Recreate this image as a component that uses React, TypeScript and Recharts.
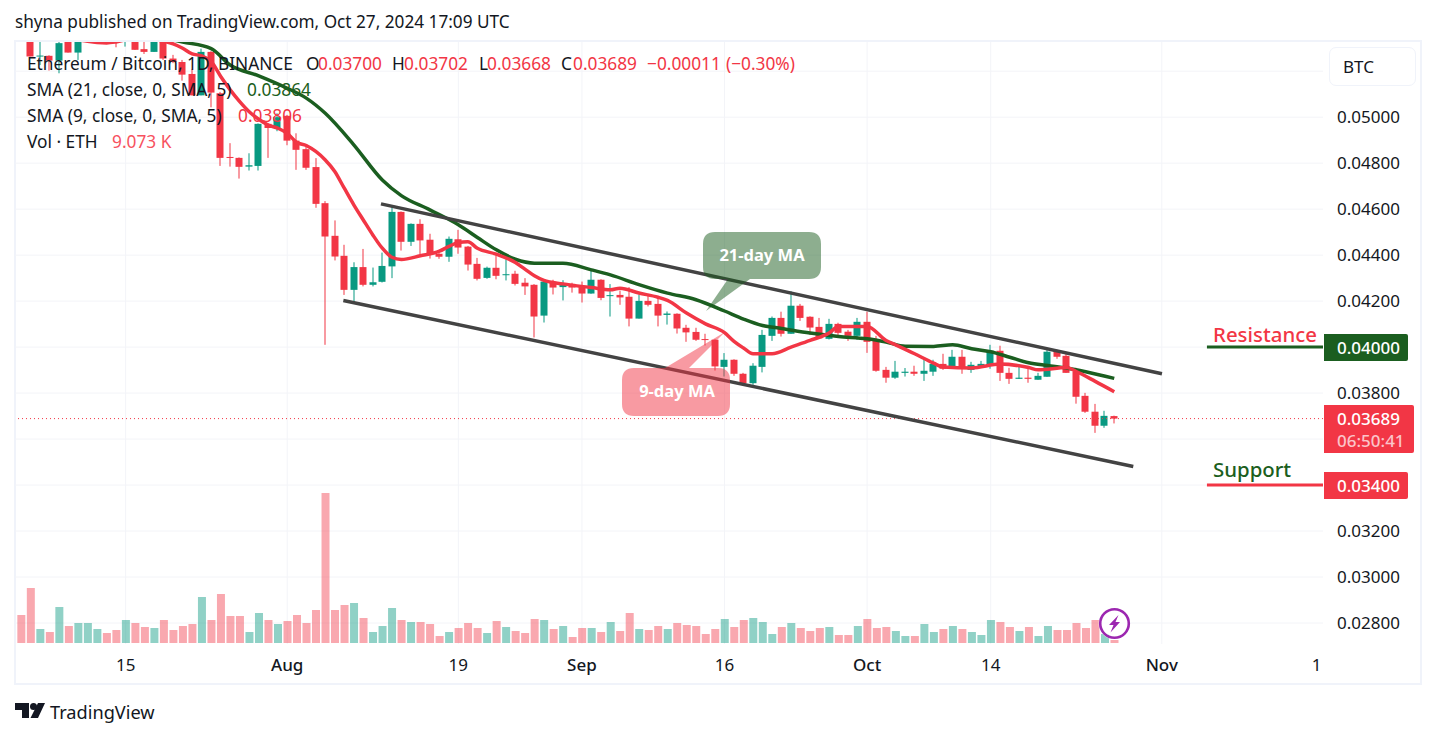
import { Bar, CartesianGrid, Cell, ComposedChart, Line, ReferenceLine, XAxis, YAxis } from "recharts";
import type { ReactNode } from "react";

const UP = "#089981";
const DOWN = "#f23645";
const MA_LONG = "#1b5e20";
const FONT = "'Noto Sans', sans-serif";

// daily candles, Jul 4 to Oct 27 2024 (day 0 = Jul 4)
const opens = [
  0.0547, 0.054, 0.05264, 0.05267, 0.05246, 0.0534, 0.05281, 0.05335, 0.0538, 0.0542,
  0.0538, 0.0534, 0.0537, 0.05296, 0.05284, 0.0534, 0.05255, 0.0524, 0.05188, 0.05095,
  0.05284, 0.05104, 0.04827, 0.04823, 0.04785, 0.04788, 0.04971, 0.04953, 0.05006, 0.04898,
  0.04861, 0.04783, 0.04626, 0.04484, 0.04397, 0.04249, 0.04348, 0.04271, 0.04284, 0.04351,
  0.04588, 0.04458, 0.04536, 0.04467, 0.04406, 0.04393, 0.04469, 0.04437, 0.04362, 0.04301,
  0.04345, 0.04314, 0.04319, 0.0428, 0.04271, 0.04137, 0.04281, 0.04261, 0.04275, 0.04261,
  0.04233, 0.04293, 0.04222, 0.04227, 0.04219, 0.04124, 0.04201, 0.04188, 0.0414, 0.04145,
  0.04084, 0.04066, 0.04035, 0.04032, 0.03914, 0.03945, 0.03884, 0.03843, 0.03914, 0.04049,
  0.04127, 0.04058, 0.0418, 0.04132, 0.04088, 0.04036, 0.04101, 0.04067, 0.04049, 0.0411,
  0.04027, 0.03901, 0.03867, 0.03888, 0.03893, 0.03884, 0.03893, 0.03927, 0.03906, 0.03958,
  0.03901, 0.03914, 0.03922, 0.03984, 0.03888, 0.03862, 0.03867, 0.03858, 0.03871, 0.03984,
  0.03962, 0.03893, 0.03788, 0.03719, 0.03658, 0.037
];
const highs = [
  0.0549, 0.0541, 0.0534, 0.05269, 0.05335, 0.05345, 0.0535, 0.054, 0.0543, 0.0544,
  0.054, 0.0539, 0.0538, 0.0534, 0.0535, 0.05345, 0.05271, 0.05249, 0.05209, 0.05298,
  0.05287, 0.0511, 0.04887, 0.04825, 0.04843, 0.04973, 0.04973, 0.05017, 0.0501, 0.0493,
  0.04872, 0.04822, 0.04635, 0.04551, 0.04445, 0.04369, 0.04427, 0.04346, 0.04411, 0.04609,
  0.0459, 0.04538, 0.04556, 0.04493, 0.04409, 0.04481, 0.0451, 0.0444, 0.04388, 0.0435,
  0.04404, 0.04382, 0.04332, 0.043, 0.04274, 0.04295, 0.04293, 0.04291, 0.0428, 0.04285,
  0.04336, 0.04295, 0.04274, 0.04246, 0.04261, 0.04229, 0.0423, 0.04213, 0.04155, 0.04147,
  0.04097, 0.04084, 0.04058, 0.04034, 0.03974, 0.03947, 0.03888, 0.0393, 0.04075, 0.04133,
  0.04154, 0.04243, 0.04188, 0.04134, 0.04127, 0.04123, 0.04106, 0.04075, 0.04127, 0.04154,
  0.04049, 0.03914, 0.0394, 0.03909, 0.03919, 0.03945, 0.03945, 0.03971, 0.03988, 0.03988,
  0.03936, 0.0394, 0.0401, 0.04006, 0.0391, 0.03923, 0.03906, 0.03888, 0.03988, 0.03988,
  0.03971, 0.0391, 0.03801, 0.03753, 0.03723, 0.03702
];
const lows = [
  0.0534, 0.05264, 0.05227, 0.05203, 0.05191, 0.05281, 0.05249, 0.05332, 0.0536, 0.0535,
  0.05304, 0.05307, 0.05293, 0.05275, 0.05284, 0.05249, 0.05235, 0.05159, 0.05095, 0.05095,
  0.05043, 0.04788, 0.04785, 0.04733, 0.04768, 0.04768, 0.04823, 0.04939, 0.04878, 0.04771,
  0.04771, 0.04606, 0.0401, 0.04377, 0.04227, 0.04198, 0.04264, 0.04264, 0.04281, 0.043,
  0.0442, 0.0444, 0.04403, 0.04385, 0.04384, 0.04371, 0.04406, 0.04333, 0.0429, 0.04297,
  0.04295, 0.0429, 0.04268, 0.04227, 0.04042, 0.04107, 0.04229, 0.04203, 0.04237, 0.04194,
  0.04232, 0.04204, 0.04133, 0.04184, 0.0409, 0.04124, 0.04177, 0.0409, 0.04098, 0.04059,
  0.04023, 0.04027, 0.04007, 0.03898, 0.03872, 0.03875, 0.03836, 0.03836, 0.0389, 0.04027,
  0.04046, 0.04058, 0.04114, 0.04053, 0.04036, 0.04033, 0.04049, 0.04027, 0.04032, 0.03975,
  0.03893, 0.03845, 0.03862, 0.03872, 0.03875, 0.03853, 0.03875, 0.03901, 0.03906, 0.03884,
  0.03888, 0.0391, 0.03906, 0.03853, 0.0384, 0.03862, 0.03845, 0.03858, 0.03871, 0.03949,
  0.03888, 0.03754, 0.03714, 0.03627, 0.03649, 0.03668
];
const closes = [
  0.0535, 0.05264, 0.05268, 0.05246, 0.05322, 0.05281, 0.05335, 0.0538, 0.0542, 0.0538,
  0.0534, 0.0537, 0.05293, 0.05284, 0.0534, 0.05255, 0.0524, 0.05185, 0.05095, 0.05284,
  0.05107, 0.04823, 0.04823, 0.04784, 0.04791, 0.04971, 0.04953, 0.05, 0.04898, 0.04858,
  0.0478, 0.04623, 0.04481, 0.04394, 0.04249, 0.04348, 0.04271, 0.04282, 0.04353, 0.04588,
  0.04458, 0.04536, 0.04464, 0.04406, 0.04393, 0.04471, 0.04433, 0.04359, 0.04297, 0.04345,
  0.0431, 0.04317, 0.04275, 0.04264, 0.04133, 0.04285, 0.04259, 0.04275, 0.04259, 0.04233,
  0.04293, 0.04214, 0.04226, 0.04216, 0.04124, 0.04201, 0.04184, 0.04137, 0.04146, 0.04081,
  0.04064, 0.04032, 0.04032, 0.03916, 0.03945, 0.03884, 0.03843, 0.03919, 0.04053, 0.04127,
  0.04058, 0.0418, 0.04127, 0.04085, 0.04038, 0.04101, 0.04062, 0.04049, 0.0411, 0.04023,
  0.03897, 0.03867, 0.03893, 0.03893, 0.03884, 0.03897, 0.03927, 0.03906, 0.03958, 0.03906,
  0.03923, 0.03927, 0.03984, 0.03888, 0.03862, 0.03867, 0.03862, 0.03875, 0.0398, 0.03958,
  0.03888, 0.03784, 0.03719, 0.03658, 0.03701, 0.03689
];
// volume in thousands of ETH
const volumes = [
  84, 165, 42, 33, 108, 51, 60, 60, 42, 30,
  39, 69, 60, 48, 45, 69, 39, 51, 57, 138,
  69, 147, 81, 81, 33, 90, 69, 57, 66, 84,
  60, 99, 450, 99, 114, 120, 75, 33, 51, 105,
  69, 63, 63, 57, 21, 33, 45, 60, 45, 30,
  66, 48, 36, 30, 72, 69, 42, 51, 18, 45,
  45, 33, 63, 36, 90, 42, 39, 51, 42, 60,
  54, 51, 27, 42, 72, 48, 69, 75, 63, 27,
  48, 60, 45, 36, 45, 48, 24, 24, 51, 72,
  45, 48, 36, 21, 21, 57, 33, 42, 51, 42,
  33, 24, 69, 63, 48, 36, 48, 21, 51, 39,
  39, 60, 45, 69, 27, 9
];

// moving averages at these days
const sma21Days = [
  15, 17, 20, 22, 25, 28, 30, 32, 35, 38, 40, 43, 46, 48, 50, 52, 54, 57, 60, 62, 65,
  68, 71, 74, 76, 78, 80, 83, 86, 89, 91, 93, 96, 98, 100, 102, 104, 106, 108, 110, 112, 115
];
const sma21Values = [
  0.05345, 0.05327, 0.05298, 0.05227, 0.0518, 0.05126, 0.05083, 0.05017, 0.0488, 0.04727,
  0.04659, 0.04597, 0.04532, 0.04477, 0.04423, 0.04382, 0.04365, 0.04365, 0.04336, 0.04314,
  0.04272, 0.04235, 0.04206, 0.04157, 0.04122, 0.04094, 0.04081, 0.04061, 0.04046, 0.04036,
  0.04022, 0.04004, 0.04003, 0.0401, 0.03993, 0.0398, 0.03956, 0.03932, 0.0392, 0.03909,
  0.03893, 0.03864
];
const sma9Days = [
  5, 7, 8, 9, 10, 12, 15, 16, 17, 18, 19, 20, 21, 22, 23, 24, 25, 26, 27, 28, 29, 30, 31, 32, 33,
  34, 35, 36, 37, 38, 39, 40, 42, 44, 45, 46, 47, 48, 50, 52, 53, 54, 55, 57, 60, 62, 63, 65, 67,
  68, 70, 72, 74, 75, 76, 77, 79, 81, 83, 85, 86, 89, 91, 92, 94, 96, 97, 100, 103, 106, 107, 110,
  111, 113, 115
];
const sma9Values = [
  0.05345, 0.0533, 0.05325, 0.05323, 0.05327, 0.05345, 0.0533, 0.05319, 0.053, 0.05275,
  0.05267, 0.05242, 0.05177, 0.05119, 0.05068, 0.05024, 0.04991, 0.04966, 0.04952, 0.0493,
  0.0489, 0.04877, 0.04851, 0.04814, 0.04764, 0.04691, 0.04619, 0.04553, 0.04488, 0.0443,
  0.04391, 0.04381, 0.04397, 0.04417, 0.04438, 0.04455, 0.04458, 0.0443, 0.04404, 0.04368,
  0.04339, 0.0431, 0.0429, 0.04275, 0.04259, 0.04249, 0.04256, 0.04235, 0.04217, 0.04203,
  0.04148, 0.04101, 0.04063, 0.04025, 0.03996, 0.03971, 0.03971, 0.04, 0.04029, 0.04061,
  0.0409, 0.0409, 0.04029, 0.0401, 0.03971, 0.0393, 0.03913, 0.03909, 0.03926, 0.03911,
  0.03901, 0.03911, 0.03894, 0.03851, 0.03806
];

const xTicks = [11, 28, 46, 59, 74, 89, 102, 120, 136.3];
const xTickLabels = ["15", "Aug", "19", "Sep", "16", "Oct", "14", "Nov", "1"];
const xGridDays = [11, 28, 46, 59, 74, 89, 102, 120];
const monthLabels = ["Aug", "Sep", "Oct", "Nov"];
const priceTicks = [0.028, 0.03, 0.032, 0.034, 0.036, 0.038, 0.04, 0.042, 0.044, 0.046, 0.048, 0.05, 0.052];
// these grid levels have their label covered by a price tag or the currency button
const hiddenPriceLabels = [0.034, 0.036, 0.04, 0.052];

// hand-drawn trend lines: [day, price]
const channelUpper = [[37.86, 0.04623], [120.02, 0.03884]];
const channelLower = [[33.9, 0.04203], [117, 0.03481]];
const levelStart = 124.75;
const lastDay = 136.96;
const resistance = 0.04;
const support = 0.034;
const lastClose = 0.03689;

const rows = opens.map((open, day) => ({
  day,
  open,
  high: highs[day],
  low: lows[day],
  close: closes[day],
  volume: volumes[day],
  sma21: sma21Days.includes(day) ? sma21Values[sma21Days.indexOf(day)] : null,
  sma9: sma9Days.includes(day) ? sma9Values[sma9Days.indexOf(day)] : null
}));

function Candle(props: any) {
  const { x, y, width, height, payload } = props;
  const { open, close, high, low } = payload;
  const perPrice = height / (high - low);
  const top = y + (high - Math.max(open, close)) * perPrice;
  const bodyHeight = Math.max(Math.abs(open - close) * perPrice, 1);
  const color = close >= open ? UP : DOWN;
  const mid = Math.round(x + width / 2);

  return (
    <g>
      <rect x={mid - 0.5} y={y} width={1} height={height} fill={color} />
      <rect x={mid - 3.5} y={top} width={7} height={bodyHeight} fill={color} />
    </g>
  );
}

function DayTick({ x, y, payload }: any) {
  const label = xTickLabels[xTicks.indexOf(payload.value)];
  return (
    <text
      x={x}
      y={y}
      dy={17}
      textAnchor="middle"
      fill="#131722"
      fontSize={17}
      fontFamily={FONT}
      fontWeight={monthLabels.includes(label) ? 500 : 400}
    >
      {label}
    </text>
  );
}

function Txt({
  x,
  y,
  size = 17.3,
  color = "#131722",
  weight = 400,
  children
}: {
  x: number;
  y: number;
  size?: number;
  color?: string;
  weight?: number;
  children: ReactNode;
}) {
  return (
    <span
      style={{
        position: "absolute",
        left: x,
        top: y,
        transform: "translateY(-50%)",
        fontSize: size,
        color,
        fontWeight: weight,
        lineHeight: 1,
        whiteSpace: "nowrap"
      }}
    >
      {children}
    </span>
  );
}

function PriceTag({ top, height, width, fill }: { top: number; height: number; width: number; fill: string }) {
  return (
    <div style={{ position: "absolute", left: 1324, top, width, height, background: fill, borderRadius: "0 2px 2px 0" }} />
  );
}

export default function App() {
  return (
    <div style={{ position: "absolute", left: 0, top: 0, width: 1437, height: 738, background: "#fff", overflow: "hidden", fontFamily: FONT }}>
      <div style={{ position: "absolute", left: 14, top: 40, width: 1404, height: 641, border: "2px solid #f0f3fa" }} />

      <div style={{ position: "absolute", left: 0, top: 0 }}>
        <ComposedChart width={1437} height={738} data={rows} margin={{ top: 42, right: 14, bottom: 52, left: 15 }}>
          <CartesianGrid stroke="#f3f4f8" yAxisId="price" horizontalValues={priceTicks} verticalValues={xGridDays} />
          <XAxis
            dataKey="day"
            type="number"
            domain={[-0.64, lastDay]}
            allowDataOverflow
            ticks={xTicks}
            interval={0}
            tickLine={false}
            axisLine={false}
            height={40}
            tick={<DayTick />}
          />
          <XAxis xAxisId="vol" dataKey="day" type="number" domain={[-0.64, lastDay]} allowDataOverflow hide />
          <YAxis
            yAxisId="price"
            orientation="right"
            width={100}
            domain={[0.027, 0.05327]}
            allowDataOverflow
            ticks={priceTicks}
            interval={0}
            tickFormatter={(v: number) => (hiddenPriceLabels.includes(v) ? "" : v.toFixed(5))}
            tickLine={false}
            axisLine={false}
            tickMargin={8}
            tick={{ fill: "#131722", fontSize: 17, fontFamily: FONT }}
          />
          <YAxis yAxisId="vol" hide domain={[-9, 1803]} allowDataOverflow />

          <Bar xAxisId="vol" yAxisId="vol" dataKey="volume" barSize={8} isAnimationActive={false}>
            {rows.map((row) => (
              <Cell key={row.day} fill={row.close >= row.open ? "rgba(8,153,129,0.45)" : "rgba(242,54,69,0.43)"} />
            ))}
          </Bar>
          <Bar
            yAxisId="price"
            dataKey={(row: any) => [row.low, row.high]}
            barSize={7}
            shape={<Candle />}
            isAnimationActive={false}
          />

          <ReferenceLine yAxisId="price" y={lastClose} stroke={DOWN} strokeDasharray="1 3" strokeWidth={1} />

          <Line yAxisId="price" dataKey="sma21" type="monotone" connectNulls dot={false} stroke={MA_LONG} strokeWidth={3.5} isAnimationActive={false} />
          <Line yAxisId="price" dataKey="sma9" type="monotone" connectNulls dot={false} stroke={DOWN} strokeWidth={3.5} isAnimationActive={false} />

          <ReferenceLine
            yAxisId="price"
            segment={channelUpper.map(([x, y]) => ({ x, y }))}
            stroke="#434343"
            strokeWidth={3.5}
          />
          <ReferenceLine
            yAxisId="price"
            segment={channelLower.map(([x, y]) => ({ x, y }))}
            stroke="#434343"
            strokeWidth={3.5}
          />
          <ReferenceLine
            yAxisId="price"
            segment={[{ x: levelStart, y: resistance }, { x: lastDay, y: resistance }]}
            stroke={MA_LONG}
            strokeWidth={3}
          />
          <ReferenceLine
            yAxisId="price"
            segment={[{ x: levelStart, y: support }, { x: lastDay, y: support }]}
            stroke={DOWN}
            strokeWidth={3}
          />
        </ComposedChart>
      </div>

      {/* callouts, alert icon and logo sit on top of the chart */}
      <svg width={1437} height={738} style={{ position: "absolute", left: 0, top: 0, pointerEvents: "none" }}>
        {/* grid stops just under the volume bars */}
        <rect x={16} y={644} width={1310} height={6} fill="#fff" />
        <path
          d="M715 232H809Q821 232 821 244V267Q821 279 809 279H750L706 311L728 279H715Q703 279 703 267V244Q703 232 715 232Z"
          fill="rgba(27,94,32,0.5)"
        />
        <path
          d="M634 368H665L725 332L689 368H718Q730 368 730 380V404Q730 416 718 416H634Q622 416 622 404V380Q622 368 634 368Z"
          fill="rgba(242,54,69,0.5)"
        />
        <text x={762} y={261} textAnchor="middle" fill="#fff" fontSize={16.5} fontWeight={700} fontFamily={FONT}>
          21-day MA
        </text>
        <text x={677} y={397} textAnchor="middle" fill="#fff" fontSize={16.5} fontWeight={700} fontFamily={FONT}>
          9-day MA
        </text>
        <circle cx={1114.5} cy={623.5} r={16} fill="#fff" fillOpacity={0.7} />
        <circle cx={1114.5} cy={623.5} r={14.3} fill="none" stroke="#9c27b0" strokeWidth={2.6} />
        <path d="M1118.5 615L1109 625H1113.5L1110.5 632.5L1120 622H1115.5Z" fill="#9c27b0" />
        <path d="M15 703H29V718H22V710H15Z" fill="#131722" />
        <circle cx={33.5} cy={706.5} r={3.5} fill="#131722" />
        <path d="M38 703H45L38 718H30.5Z" fill="#131722" />
      </svg>

      <Txt x={15} y={22} size={17.2}>shyna published on TradingView.com, Oct 27, 2024 17:09 UTC</Txt>

      <Txt x={27} y={64}>Ethereum / Bitcoin, 1D, BINANCE</Txt>
      <Txt x={306} y={64}>O</Txt>
      <Txt x={318} y={64} color={DOWN}>0.03700</Txt>
      <Txt x={392} y={64}>H</Txt>
      <Txt x={404} y={64} color={DOWN}>0.03702</Txt>
      <Txt x={479} y={64}>L</Txt>
      <Txt x={487} y={64} color={DOWN}>0.03668</Txt>
      <Txt x={561} y={64}>C</Txt>
      <Txt x={573} y={64} color={DOWN}>0.03689</Txt>
      <Txt x={647} y={64} color={DOWN}>−0.00011</Txt>
      <Txt x={726} y={64} color={DOWN}>(−0.30%)</Txt>

      <Txt x={27} y={90}>SMA (21, close, 0, SMA, 5)</Txt>
      <Txt x={247} y={90} color={MA_LONG}>0.03864</Txt>
      <Txt x={27} y={116}>SMA (9, close, 0, SMA, 5)</Txt>
      <Txt x={238} y={116} color={DOWN}>0.03806</Txt>
      <Txt x={27} y={142}>Vol · ETH</Txt>
      <Txt x={112} y={142} color="#f7525f">9.073 K</Txt>

      <div style={{ position: "absolute", left: 1329, top: 47, width: 85, height: 37, background: "#fff", border: "1.5px solid #f0f3fa", borderRadius: 7 }} />
      <Txt x={1343} y={66} size={17}>BTC</Txt>

      <PriceTag top={334} height={27} width={84} fill={MA_LONG} />
      <Txt x={1337} y={347} size={17} color="#fff" weight={500}>0.04000</Txt>
      <PriceTag top={405} height={48} width={90} fill={DOWN} />
      <Txt x={1337} y={418} size={17} color="#fff" weight={500}>0.03689</Txt>
      <Txt x={1337} y={440} size={17} color="#fbc4c9" weight={500}>06:50:41</Txt>
      <PriceTag top={472} height={27} width={84} fill={DOWN} />
      <Txt x={1337} y={485} size={17} color="#fff" weight={500}>0.03400</Txt>

      <Txt x={1213} y={334} size={20.4} color={DOWN} weight={500}>Resistance</Txt>
      <Txt x={1213} y={469} size={20.4} color={MA_LONG} weight={500}>Support</Txt>

      <Txt x={50} y={712} size={18.2} color="#131722">TradingView</Txt>
    </div>
  );
}
